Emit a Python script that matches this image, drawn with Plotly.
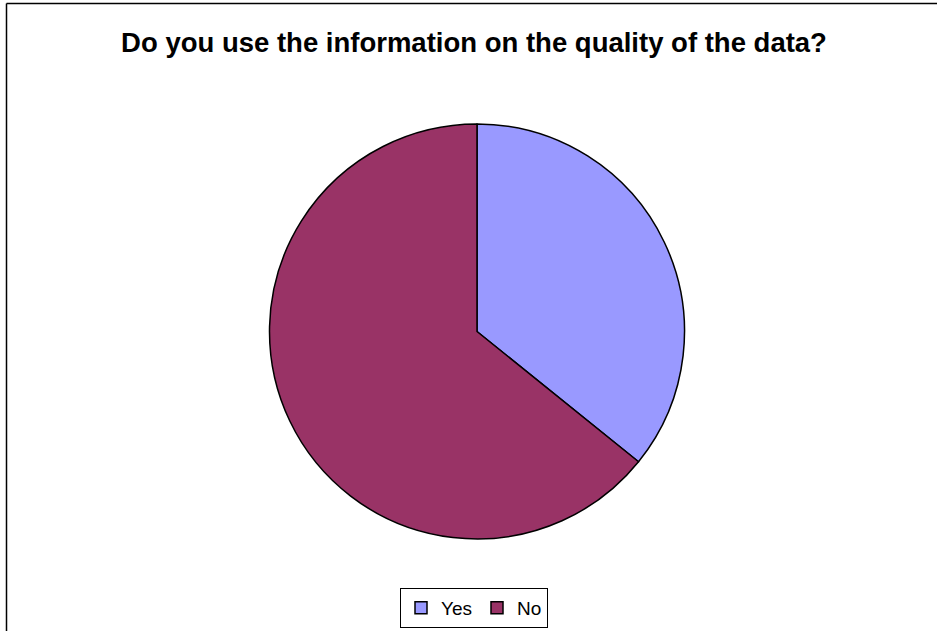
import plotly.graph_objects as go

labels = ["Yes", "No"]
values = [35.8, 64.2]
colors = ["#9999FF", "#993366"]
title_text = "Do you use the information on the quality of the data?"

W, H = 937, 631

fig = go.Figure(go.Pie(
    labels=labels,
    values=values,
    sort=False,
    direction="clockwise",
    rotation=0,
    textinfo="none",
    hoverinfo="label+percent",
    marker=dict(colors=colors, line=dict(color="black", width=1.5)),
    domain=dict(x=[269.5 / W, 684.5 / W], y=[(H - 539) / H, (H - 124) / H]),
))

fig.update_layout(
    width=W, height=H,
    margin=dict(l=0, r=0, t=0, b=0),
    paper_bgcolor="white",
    plot_bgcolor="white",
    font=dict(family="Liberation Sans, Arial, sans-serif", color="black"),
    title=dict(text="<b>" + title_text + "</b>", x=474 / W, xanchor="center",
               y=1 - 42 / H, yanchor="middle", font=dict(size=27.5, color="black")),
    legend=dict(orientation="h", x=474 / W, xanchor="center", y=(H - 608) / H, yanchor="middle",
                bordercolor="black", borderwidth=1, bgcolor="white",
                font=dict(size=19, color="black"), itemwidth=30,
                itemclick=False),
    shapes=[
        dict(type="line", xref="paper", yref="paper", x0=6.5 / W, x1=1.01, y0=1 - 3.5 / H, y1=1 - 3.5 / H,
             line=dict(color="black", width=1.5)),
        dict(type="line", xref="paper", yref="paper", x0=6.5 / W, x1=6.5 / W, y0=-0.01, y1=1 - 3.5 / H,
             line=dict(color="black", width=1.5)),
    ],
)

fig.write_html("out.html", config={"displayModeBar": False},
               post_script="document.body.style.margin='0';document.body.style.overflow='hidden';")
